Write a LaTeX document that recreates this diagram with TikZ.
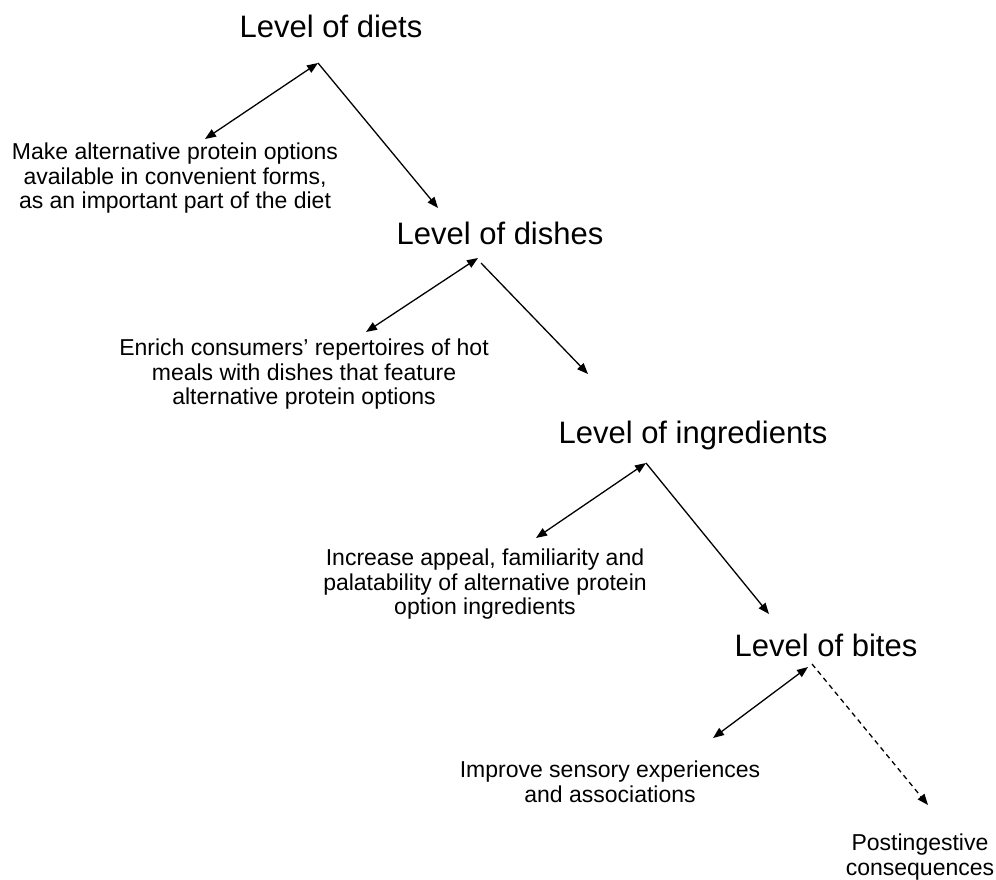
\documentclass[tikz,border=0pt]{standalone}
\usepackage{fontspec}
\setmainfont{Liberation Sans}
\usetikzlibrary{arrows.meta}
\begin{document}
\begin{tikzpicture}[x=1pt,y=-1pt,
  level/.style={inner sep=0pt,anchor=base,font=\fontsize{31}{36}\selectfont},
  note/.style={inner sep=0pt,anchor=north,align=center,font=\fontsize{23}{24.3}\selectfont},
  link/.style={line width=1.3pt,-{Triangle[length=11pt,width=8.5pt]}},
  both/.style={line width=1.3pt,{Triangle[length=11pt,width=8.5pt]}-{Triangle[length=11pt,width=8.5pt]}},
  dlink/.style={link,dash pattern=on 5pt off 4pt}]
\useasboundingbox (0,0) rectangle (996,879);
% level titles
\node[level] (diets) at (331,37) {Level of diets};
\node[level] (dishes) at (500,244) {Level of dishes};
\node[level] (ingr) at (693,443) {Level of ingredients};
\node[level] (bites) at (826,656) {Level of bites};
% notes
\node[note] (make) at (175,143) {Make alternative protein options\\available in convenient forms,\\as an important part of the diet};
\node[note] (enrich) at (304,339) {Enrich consumers’ repertoires of hot\\meals with dishes that feature\\alternative protein options};
\node[note] (increase) at (485,549) {Increase appeal, familiarity and\\palatability of alternative protein\\option ingredients};
\node[note] (improve) at (610,761) {Improve sensory experiences\\and associations};
\node[note] (posting) at (920,834) {Postingestive\\consequences};
% connector ends
\coordinate (a1) at (318,63);
\coordinate (l1) at (205,139);
\coordinate (r1) at (438,208);
\coordinate (a2u) at (478,258);
\coordinate (a2) at (481,263);
\coordinate (l2) at (366,332);
\coordinate (r2) at (588,374);
\coordinate (a3) at (646,463);
\coordinate (l3) at (536,538);
\coordinate (r3) at (769,614);
\coordinate (a4u) at (808,667);
\coordinate (a4) at (812,664);
\coordinate (l4) at (713,738);
\coordinate (r4) at (928,805);
% connectors
\draw[both] (l1) -- (a1);
\draw[link] (a1) -- (r1);
\draw[both] (l2) -- (a2u);
\draw[link] (a2) -- (r2);
\draw[both] (l3) -- (a3);
\draw[link] (a3) -- (r3);
\draw[both] (l4) -- (a4u);
\draw[dlink] (a4) -- (r4);
\end{tikzpicture}
\end{document}
